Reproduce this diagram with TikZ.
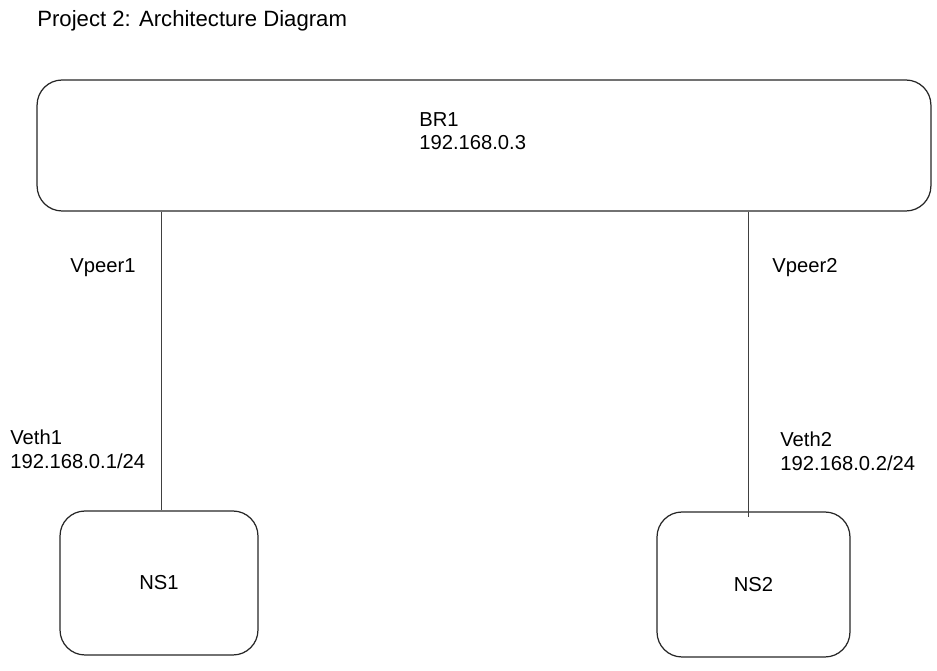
\documentclass[tikz,border=0pt]{standalone}
\usepackage{fontspec}
\setmainfont{Liberation Sans}
\usetikzlibrary{positioning,calc}

\tikzset{
  hostbox/.style={draw=black!85, line width=0.7pt, rounded corners=0.5cm, inner sep=0pt},
  link/.style={draw=black!75, line width=0.6pt},
  iflabel/.style={font=\fontsize{11.5}{13.5}\selectfont, align=left, inner sep=0pt}
}

\begin{document}
\begin{tikzpicture}[x=0.02cm, y=-0.02cm]
    \useasboundingbox (0,0) rectangle (937,671);

    % Title
    \node[anchor=west, inner sep=0pt, font=\fontsize{12.6}{14}\selectfont] (title) at (37,21) {Project 2: Architecture Diagram};

    % Bridge
    \node[hostbox, minimum width=17.88cm, minimum height=2.62cm] (br1) at (484,145.5) {};
    \node[iflabel, anchor=north west] (br1label) at (419,112) {BR1\\192.168.0.3};

    % Namespaces
    \node[hostbox, minimum width=3.96cm, minimum height=2.88cm, font=\fontsize{11.5}{13.5}\selectfont] (ns1) at (159,583) {NS1};
    \node[hostbox, minimum width=3.86cm, minimum height=2.90cm, font=\fontsize{11.5}{13.5}\selectfont] (ns2) at (753.5,584.5) {NS2};

    % Veth pairs
    \coordinate (vp1) at ($(br1.south west)!0.1398!(br1.south east)$);
    \coordinate (vp2) at ($(br1.south west)!0.795!(br1.south east)$);
    \draw[link] (vp1) -- (vp1 |- ns1.north);
    \draw[link] (vp2) -- ($(vp2 |- ns2.north)+(0,6)$);

    % Interface labels
    \node[iflabel, anchor=west] (vpeer1) at (70,268) {Vpeer1};
    \node[iflabel, anchor=west] (vpeer2) at (772,268) {Vpeer2};
    \node[iflabel, anchor=north west] (veth1) at (10,430) {Veth1\\192.168.0.1/24};
    \node[iflabel, anchor=north west] (veth2) at (780,432) {Veth2\\192.168.0.2/24};
\end{tikzpicture}
\end{document}
